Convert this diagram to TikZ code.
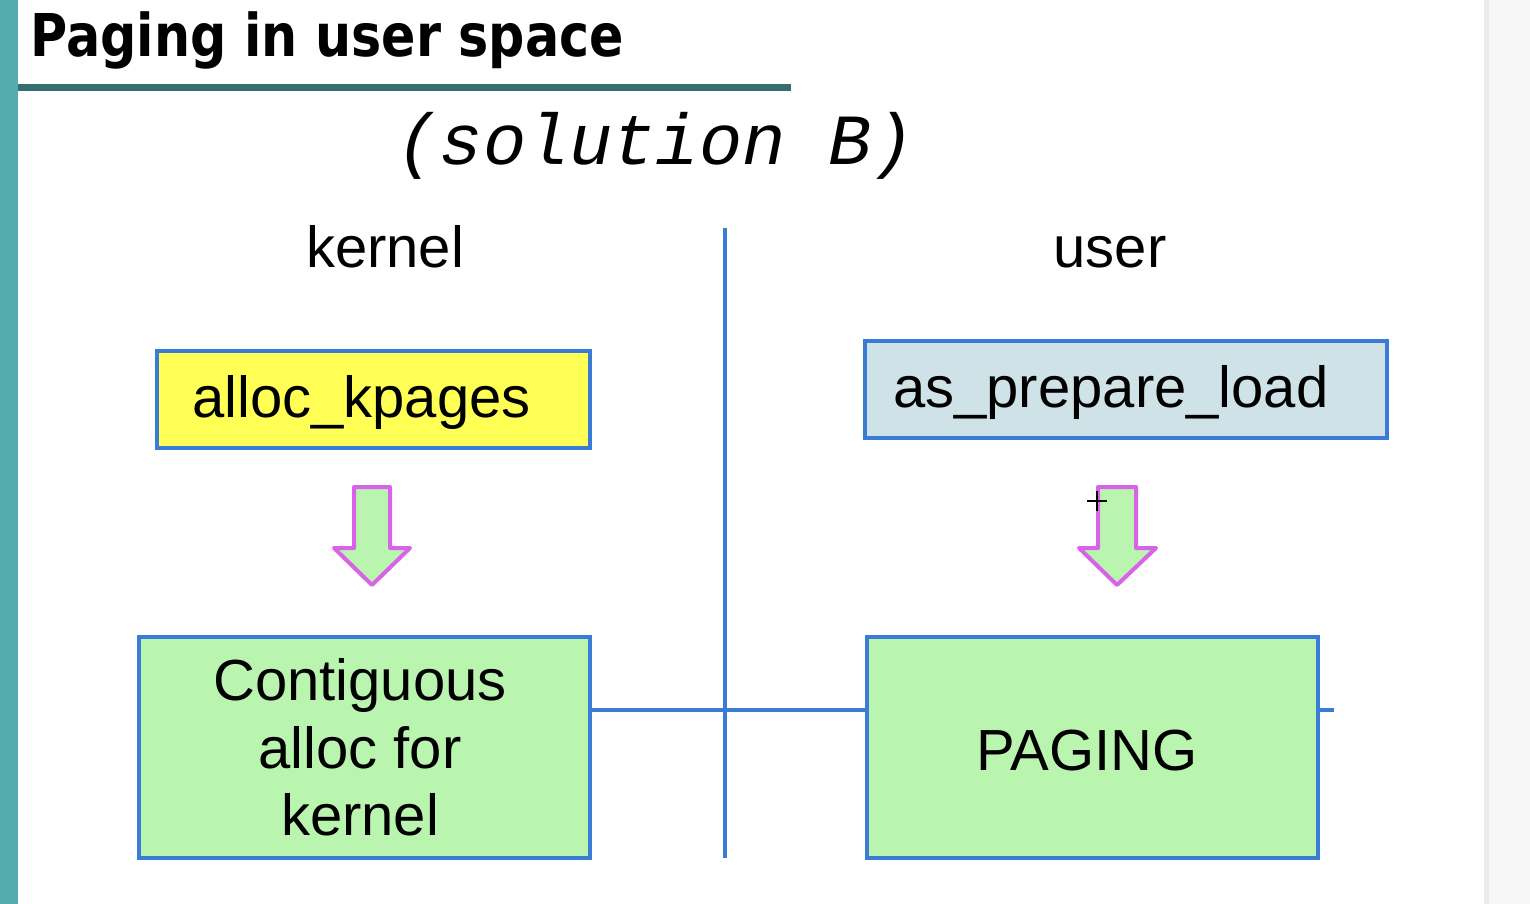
\documentclass[tikz,border=0pt]{standalone}
\usepackage{fontspec}
\setmainfont{Liberation Sans}
\newfontfamily\titlefont{DejaVu Sans}
\newfontfamily\monofont{Liberation Mono}
\usepackage{graphicx}
\definecolor{tealbar}{RGB}{84,172,176}
\definecolor{darkteal}{RGB}{52,110,112}
\definecolor{lineblue}{RGB}{58,123,213}
\definecolor{boxyellow}{RGB}{255,255,85}
\definecolor{boxgrey}{RGB}{206,226,232}
\definecolor{boxgreen}{RGB}{186,245,176}
\definecolor{arrowmag}{RGB}{216,98,232}
\definecolor{edgegrey}{RGB}{236,236,238}
\tikzset{
  box/.style={draw=lineblue, line width=3.5pt, inner sep=0pt, anchor=north west},
  bigtext/.style={font=\fontsize{58}{68}\selectfont, anchor=base, inner sep=0pt},
  conn/.style={draw=lineblue, line width=3.5pt},
  downarrow/.style={draw=arrowmag, fill=boxgreen, line width=4pt, line join=round},
}
\begin{document}
\begin{tikzpicture}[x=1pt,y=-1pt]
\useasboundingbox (0,0) rectangle (1530,904);
\fill[white] (0,0) rectangle (1530,904);
% left bar and right edge
\fill[tealbar] (0,0) rectangle (18,904);
\fill[edgegrey] (1484,0) rectangle (1489,904);
\fill[white!97!black] (1489,0) rectangle (1530,904);
% title
\node[anchor=base west, inner sep=0pt, font=\titlefont\bfseries\fontsize{59}{70}\selectfont] (title) at (30,57) {\scalebox{0.86}[1]{Paging in user space}};
\fill[darkteal] (18,84) rectangle (791,91);
\node[anchor=base, inner sep=0pt, font=\monofont\itshape\fontsize{72}{80}\selectfont] (sol) at (656,165) {(solution B)};
% column headings
\node[bigtext] (kernel) at (385,267) {kernel};
\node[bigtext] (user) at (1110,267) {user};
% divider
\coordinate (dtop) at (725,228);
\coordinate (dbot) at (725,858);
\draw[conn] (dtop) -- (dbot);
% boxes
\node[box, fill=boxyellow, minimum width=433pt, minimum height=97pt] (alloc) at (155,349) {};
\node[bigtext, anchor=base west] (alloctxt) at (192,417) {alloc\_kpages};
\node[box, fill=boxgrey, minimum width=522pt, minimum height=97pt] (prep) at (863,339) {};
\node[bigtext, anchor=base west] (preptxt) at (893,407) {as\_prepare\_load};
\node[box, fill=boxgreen, minimum width=451pt, minimum height=221pt] (contig) at (137,635) {};
\node[bigtext] (c1) at (360,700) {Contiguous};
\node[bigtext] (c2) at (360,768) {alloc for};
\node[bigtext] (c3) at (360,835) {kernel};
\node[box, fill=boxgreen, minimum width=451pt, minimum height=221pt] (paging) at (865,635) {};
\node[bigtext] (pagtxt) at (1087,770) {PAGING};
% connectors
\draw[conn] (contig.east |- 0,710) -- (paging.west |- 0,710);
\coordinate (stub) at (1334,710);
\draw[conn] (paging.east |- stub) -- (stub);
% arrows
\draw[downarrow] (354,487) -- (390,487) -- (390,548) -- (410,548) -- (372,585) -- (334,548) -- (354,548) -- cycle;
\draw[downarrow] (1098,487) -- (1136,487) -- (1136,548) -- (1156,548) -- (1117,585) -- (1079,548) -- (1098,548) -- cycle;
% cursor mark
\draw[black, line width=2pt] (1087,501) -- (1107,501) (1097,491) -- (1097,511);
\end{tikzpicture}
\end{document}
